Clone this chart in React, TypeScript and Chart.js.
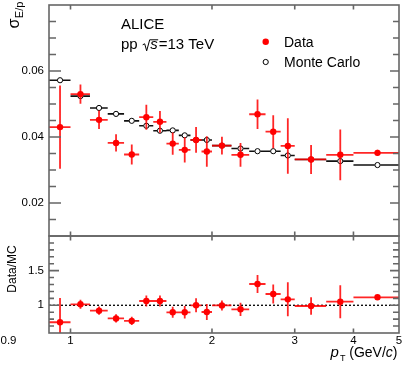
import React, { useEffect, useRef } from "react";
import { Chart, registerables } from "chart.js";

Chart.register(...registerables);

const FONT = "'Liberation Sans', Arial, Helvetica, sans-serif";
const RED = "#ff0000";
const RED_LINE = "rgba(255,0,0,0.85)";
const FRAME = "#666666";

// pT bins (GeV/c)
const BIN_EDGES = [0.9, 1.0, 1.1, 1.2, 1.3, 1.4, 1.5, 1.6, 1.7, 1.8, 1.9, 2.0, 2.2, 2.4, 2.6, 2.8, 3.0, 3.5, 4.0, 5.0];
const PT = [0.95, 1.05, 1.15, 1.25, 1.35, 1.45, 1.55, 1.65, 1.75, 1.85, 1.95, 2.1, 2.3, 2.5, 2.7, 2.9, 3.25, 3.75, 4.5];

// sigma_{E/p}
const DATA_SIGMA = [0.0430, 0.0530, 0.0452, 0.0382, 0.0347, 0.0460, 0.0446, 0.0380, 0.0361, 0.0391, 0.0356, 0.0374, 0.0346, 0.0469, 0.0416, 0.0373, 0.0332, 0.0346, 0.0352];
const DATA_ERR = [0.0126, 0.0029, 0.0028, 0.0026, 0.0030, 0.0038, 0.0033, 0.0034, 0.0038, 0.0039, 0.0046, 0.0027, 0.0036, 0.0045, 0.0050, 0.0084, 0.0044, 0.0077, 0.0009];
const MC_SIGMA = [0.0572, 0.0524, 0.0488, 0.0470, 0.0449, 0.0434, 0.0419, 0.0420, 0.0405, 0.0391, 0.0391, 0.0374, 0.0365, 0.0357, 0.0357, 0.0344, 0.0332, 0.0327, 0.0315];

// Data / MC
const RATIO = [0.755, 1.014, 0.922, 0.81, 0.774, 1.062, 1.062, 0.899, 0.899, 1.0, 0.903, 0.998, 0.942, 1.307, 1.163, 1.086, 0.99, 1.052, 1.115];
const RATIO_ERR = [0.35, 0.065, 0.06, 0.06, 0.06, 0.08, 0.08, 0.08, 0.09, 0.1, 0.115, 0.072, 0.096, 0.13, 0.137, 0.245, 0.125, 0.238, 0.03];

// axes
const X_MIN = 0.9;
const X_MAX = 5;
const X_LABELS = [0.9, 1, 2, 3, 4, 5];
const X_MARKS = [1, 2, 3, 4];
const TOP_Y_MIN = 0.01;
const TOP_Y_MAX = 0.08;
const TOP_Y_LABELS = [0.02, 0.04, 0.06];
const TOP_Y_MINOR = [0.015, 0.025, 0.03, 0.035, 0.045, 0.05, 0.055, 0.065, 0.07, 0.075];
const RATIO_Y_MIN = 0.6;
const RATIO_Y_MAX = 2.0;
const RATIO_Y_LABELS = [1, 1.5];
const RATIO_Y_MINOR = [0.7, 0.8, 0.9, 1.1, 1.2, 1.3, 1.4, 1.6, 1.7, 1.8, 1.9];

const W = 407;
const H = 365;

function clipArea(chart: any) {
  const a = chart.chartArea;
  const ctx = chart.ctx;
  ctx.beginPath();
  ctx.rect(a.left, a.top, a.right - a.left, a.bottom - a.top);
  ctx.clip();
}

function drawFrame(chart: any, yMajor: number[], yMinor: number[], majL: number, minL: number, majR: number, minR: number) {
  const { ctx, chartArea: a, scales } = chart;
  const x = scales.x;
  const y = scales.y;
  ctx.save();
  ctx.strokeStyle = FRAME;
  ctx.lineWidth = 1.6;
  ctx.strokeRect(a.left, a.top, a.right - a.left, a.bottom - a.top);
  ctx.beginPath();
  for (const v of X_MARKS) {
    const px = x.getPixelForValue(v);
    ctx.moveTo(px, a.bottom);
    ctx.lineTo(px, a.bottom - 4.5);
    ctx.moveTo(px, a.top);
    ctx.lineTo(px, a.top + 4.5);
  }
  for (const v of yMajor) {
    const py = y.getPixelForValue(v);
    ctx.moveTo(a.left, py);
    ctx.lineTo(a.left + majL, py);
    ctx.moveTo(a.right, py);
    ctx.lineTo(a.right - majR, py);
  }
  for (const v of yMinor) {
    const py = y.getPixelForValue(v);
    ctx.moveTo(a.left, py);
    ctx.lineTo(a.left + minL, py);
    ctx.moveTo(a.right, py);
    ctx.lineTo(a.right - minR, py);
  }
  ctx.stroke();
  ctx.restore();
}

function drawDataErrors(chart: any, values: number[], errs: number[]) {
  const { ctx, scales } = chart;
  const x = scales.x;
  const y = scales.y;
  ctx.save();
  clipArea(chart);
  ctx.strokeStyle = RED_LINE;
  ctx.lineWidth = 1.8;
  ctx.beginPath();
  values.forEach((v, i) => {
    const py = y.getPixelForValue(v);
    const px = x.getPixelForValue(PT[i]);
    ctx.moveTo(x.getPixelForValue(BIN_EDGES[i]), py);
    ctx.lineTo(x.getPixelForValue(BIN_EDGES[i + 1]), py);
    ctx.moveTo(px, y.getPixelForValue(v + errs[i]));
    ctx.lineTo(px, y.getPixelForValue(v - errs[i]));
  });
  ctx.stroke();
  ctx.restore();
}

function drawMcBars(chart: any) {
  const { ctx, scales } = chart;
  const x = scales.x;
  const y = scales.y;
  const r = 2.8;
  ctx.save();
  clipArea(chart);
  ctx.strokeStyle = "#111";
  ctx.lineWidth = 1.6;
  ctx.beginPath();
  MC_SIGMA.forEach((v, i) => {
    const py = y.getPixelForValue(v);
    const px = x.getPixelForValue(PT[i]);
    ctx.moveTo(x.getPixelForValue(BIN_EDGES[i]), py);
    ctx.lineTo(px - r, py);
    ctx.moveTo(px + r, py);
    ctx.lineTo(x.getPixelForValue(BIN_EDGES[i + 1]), py);
  });
  ctx.stroke();
  ctx.restore();
}

const topPlugin = {
  id: "topPanel",
  beforeDatasetDraw(chart: any, args: any) {
    if (args.index === 1) drawMcBars(chart);
    if (args.index === 0) drawDataErrors(chart, DATA_SIGMA, DATA_ERR);
  },
  afterDraw(chart: any) {
    drawFrame(chart, TOP_Y_LABELS, TOP_Y_MINOR, 12, 7, 9, 6);
    const ctx = chart.ctx;
    ctx.save();
    ctx.fillStyle = "#000";
    ctx.strokeStyle = "#000";
    ctx.textAlign = "left";
    ctx.textBaseline = "alphabetic";
    // ALICE
    ctx.font = `15px ${FONT}`;
    ctx.fillText("ALICE", 121, 29);
    // pp sqrt(s) = 13 TeV
    const yb = 49.3;
    ctx.fillText("pp", 121, yb);
    const x0 = 121 + ctx.measureText("pp").width + 5;
    ctx.lineWidth = 1;
    ctx.beginPath();
    ctx.moveTo(x0, yb - 4.5);
    ctx.lineTo(x0 + 2, yb - 5.5);
    ctx.lineTo(x0 + 4, yb + 1.5);
    ctx.lineTo(x0 + 7, yb - 9.5);
    ctx.stroke();
    ctx.font = `italic 15px ${FONT}`;
    const sx = x0 + 7.5;
    ctx.fillText("s", sx, yb);
    const sw = ctx.measureText("s").width;
    ctx.beginPath();
    ctx.moveTo(x0 + 7, yb - 9.5);
    ctx.lineTo(sx + sw + 0.5, yb - 9.5);
    ctx.stroke();
    ctx.font = `15px ${FONT}`;
    ctx.fillText("=13 TeV", sx + sw + 1, yb);
    // legend
    ctx.font = `14px ${FONT}`;
    ctx.fillText("Data", 284, 46.7);
    ctx.fillText("Monte Carlo", 284, 66.7);
    ctx.fillStyle = RED;
    ctx.beginPath();
    ctx.arc(265.7, 41.8, 3.2, 0, Math.PI * 2);
    ctx.fill();
    ctx.strokeStyle = "#000";
    ctx.lineWidth = 1;
    ctx.beginPath();
    ctx.arc(265.7, 62, 2.6, 0, Math.PI * 2);
    ctx.stroke();
    // y title sigma_{E/p}
    ctx.fillStyle = "#000";
    ctx.translate(18.5, 28.5);
    ctx.rotate(-Math.PI / 2);
    ctx.font = `16px ${FONT}`;
    ctx.fillText("σ", 0, 0);
    const sgw = ctx.measureText("σ").width;
    ctx.font = `11px ${FONT}`;
    ctx.fillText("E/p", sgw + 0.5, 4);
    ctx.restore();
  },
};

const ratioPlugin = {
  id: "ratioPanel",
  beforeDatasetsDraw(chart: any) {
    const { ctx, chartArea: a, scales } = chart;
    const py = scales.y.getPixelForValue(1);
    ctx.save();
    ctx.strokeStyle = "#000";
    ctx.lineWidth = 1.3;
    ctx.setLineDash([2, 2]);
    ctx.beginPath();
    ctx.moveTo(a.left, py);
    ctx.lineTo(a.right, py);
    ctx.stroke();
    ctx.restore();
    drawDataErrors(chart, RATIO, RATIO_ERR);
  },
  afterDraw(chart: any) {
    drawFrame(chart, RATIO_Y_LABELS, RATIO_Y_MINOR, 10, 5, 9, 6);
    const ctx = chart.ctx;
    ctx.save();
    ctx.fillStyle = "#000";
    // first x label placed like the original
    ctx.font = `11.5px ${FONT}`;
    ctx.textAlign = "center";
    ctx.textBaseline = "middle";
    ctx.fillText(String(X_LABELS[0]), 8.5, 340.5);
    // x title
    ctx.textAlign = "left";
    ctx.textBaseline = "alphabetic";
    const base = 356.5;
    const parts: [string, string, number][] = [
      ["p", `italic 15px ${FONT}`, 0],
      ["T", `9px ${FONT}`, 4.5],
      [" (GeV/", `14px ${FONT}`, 0],
      ["c", `italic 14px ${FONT}`, 0],
      [")", `14px ${FONT}`, 0],
    ];
    let total = 0;
    for (const [t, f] of parts) {
      ctx.font = f;
      total += ctx.measureText(t).width + (t === "T" ? 1 : 0);
    }
    let xx = 397.5 - total;
    for (const [t, f, dy] of parts) {
      ctx.font = f;
      ctx.fillText(t, xx + (t === "T" ? 1 : 0), base + dy);
      xx += ctx.measureText(t).width + (t === "T" ? 1 : 0);
    }
    // y title
    ctx.translate(15.5, 269);
    ctx.rotate(-Math.PI / 2);
    ctx.textAlign = "center";
    ctx.font = `12px ${FONT}`;
    ctx.fillText("Data/MC", 0, 0);
    ctx.restore();
  },
};

function yScale(min: number, max: number, labels: number[], fmt: (v: number) => string) {
  return {
    type: "linear",
    min,
    max,
    afterBuildTicks: (s: any) => {
      s.ticks = labels.map((v) => ({ value: v }));
    },
    afterFit: (s: any) => {
      s.width = 49;
    },
    grid: { display: false, drawTicks: true, tickLength: 5 },
    border: { display: false },
    ticks: {
      padding: 0,
      color: "#000",
      font: { family: FONT, size: 11.5, lineHeight: 0.8 },
      callback: (v: any) => fmt(Number(v)),
    },
  };
}

export default function App() {
  const topRef = useRef<HTMLCanvasElement>(null);
  const ratioRef = useRef<HTMLCanvasElement>(null);

  useEffect(() => {
    const top = new Chart(topRef.current as HTMLCanvasElement, {
      type: "scatter",
      data: {
        datasets: [
          {
            label: "Data",
            data: PT.map((x, i) => ({ x, y: DATA_SIGMA[i] })),
            pointRadius: 3.2,
            pointBackgroundColor: RED,
            pointBorderColor: RED,
            pointBorderWidth: 0,
          },
          {
            label: "Monte Carlo",
            data: PT.map((x, i) => ({ x, y: MC_SIGMA[i] })),
            pointRadius: 2.6,
            pointBackgroundColor: "rgba(0,0,0,0)",
            pointBorderColor: "#000",
            pointBorderWidth: 1,
          },
        ],
      },
      options: {
        responsive: false,
        animation: false,
        events: [],
        layout: { padding: { left: 0, right: 8, top: 5, bottom: H - 236 } },
        plugins: { legend: { display: false }, tooltip: { enabled: false } },
        scales: {
          x: { type: "logarithmic", min: X_MIN, max: X_MAX, display: false },
          y: yScale(TOP_Y_MIN, TOP_Y_MAX, TOP_Y_LABELS, (v) => v.toFixed(2)),
        } as any,
      },
      plugins: [topPlugin],
    } as any);

    const ratio = new Chart(ratioRef.current as HTMLCanvasElement, {
      type: "scatter",
      data: {
        datasets: [
          {
            label: "Data/MC",
            data: PT.map((x, i) => ({ x, y: RATIO[i] })),
            pointRadius: 3.2,
            pointBackgroundColor: RED,
            pointBorderColor: RED,
            pointBorderWidth: 0,
          },
        ],
      },
      options: {
        responsive: false,
        animation: false,
        events: [],
        layout: { padding: { left: 0, right: 8, top: 236, bottom: 0 } },
        plugins: { legend: { display: false }, tooltip: { enabled: false } },
        scales: {
          x: {
            type: "logarithmic",
            min: X_MIN,
            max: X_MAX,
            afterBuildTicks: (s: any) => {
              s.ticks = X_LABELS.map((v) => ({ value: v }));
            },
            afterFit: (s: any) => {
              s.height = 32;
            },
            grid: { display: false, drawTicks: false },
            border: { display: false },
            ticks: {
              padding: 1,
              autoSkip: false,
              maxRotation: 0,
              color: "#000",
              font: { family: FONT, size: 11.5 },
              callback: (v: any) => (Number(v) === X_LABELS[0] ? "" : String(v)),
            },
          },
          y: yScale(RATIO_Y_MIN, RATIO_Y_MAX, RATIO_Y_LABELS, (v) => String(v)),
        } as any,
      },
      plugins: [ratioPlugin],
    } as any);

    return () => {
      top.destroy();
      ratio.destroy();
    };
  }, []);

  const cs: React.CSSProperties = { position: "absolute", left: 0, top: 0, display: "block" };
  return (
    <div style={{ position: "absolute", left: 0, top: 0, width: W, height: H, background: "#fff" }}>
      <canvas ref={topRef} width={W} height={H} style={cs} />
      <canvas ref={ratioRef} width={W} height={H} style={cs} />
    </div>
  );
}
